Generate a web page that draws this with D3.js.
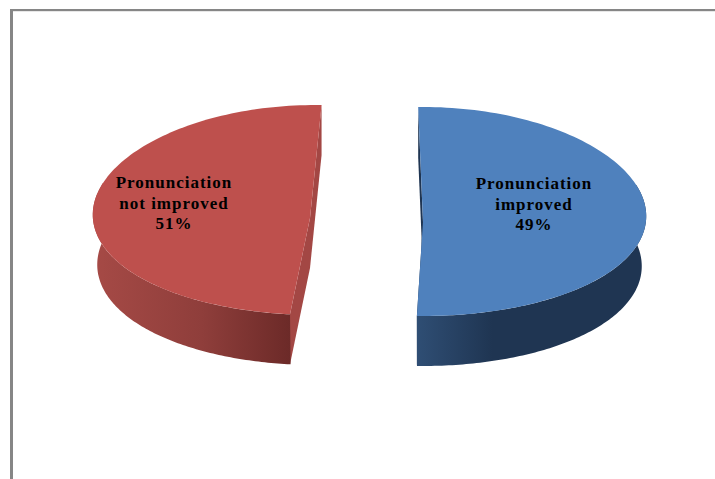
<!DOCTYPE html>
<html>
<head>
<meta charset="utf-8">
<script src="https://cdn.jsdelivr.net/npm/d3@7"></script>
<style>
  html, body { margin: 0; padding: 0; background: #fff; overflow: hidden; }
  svg { display: block; }
</style>
</head>
<body>
<script>
// Survey outcome, in percent
const categories = ["Pronunciation improved", "Pronunciation not improved"];
const labelLines = [["Pronunciation", "improved"], ["Pronunciation", "not improved"]];
const values = [49, 51];

const W = 715, H = 479;
const deg = Math.PI / 180;
const depth = 50;        // thickness of the extruded disc
const persp = 0.045;     // far side of the disc narrows slightly
const taper = 0.02;      // lower rim of the disc is a little narrower than the top

// Placement of each exploded slice and how its sweep sits on the tilted disc
const sliceViews = [
  { cx: 423, cy: 211.5, rx: 223, ry: 104.5, apex: [423, 222], from: -1.3, to: 181.5,
    top: "#4f81bd", cut: "#1f3552", wallStops: [[0, "#2f4e74"], [0.33, "#1f3552"], [1, "#1f3552"]],
    label: [534, 183] },
  { cx: 316, cy: 210, rx: 223, ry: 105, apex: [310, 218], from: 186.4, to: 361.5,
    top: "#be504d", cut: "#a34744", wallStops: [[0, "#a64a46"], [0.55, "#8f3e3b"], [1, "#6c2a28"]],
    label: [174, 182] }
];

const svg = d3.select("body").append("svg").attr("width", W).attr("height", H);
const defs = svg.append("defs");

svg.append("rect").attr("width", W).attr("height", H).attr("fill", "#fff");

// Chart frame: only its top and left edges fall inside the page
svg.append("rect").attr("x", 10).attr("y", 9).attr("width", W - 10).attr("height", 2.2).attr("fill", "#868686");
svg.append("rect").attr("x", 10).attr("y", 9).attr("width", 3).attr("height", H - 9).attr("fill", "#868686");

const pie = d3.pie().sort(null).startAngle(0).endAngle(2 * Math.PI);
const slices = pie(values);
const line = d3.line();

slices.forEach((d, i) => {
  const v = sliceViews[i];
  const view = d3.scaleLinear().domain([d.startAngle, d.endAngle]).range([v.from, v.to]);
  const rim = (a, dy = 0) => {
    const s = Math.sin(a * deg), c = Math.cos(a * deg);
    const narrow = 1 - taper * dy / depth;
    return [v.cx + v.rx * narrow * s * (1 - persp * c), v.cy - v.ry * c + dy];
  };
  const rimSpan = (a0, a1, dy) => d3.range(0, 121).map(k => rim(a0 + (a1 - a0) * k / 120, dy));

  const start = view(d.startAngle), end = view(d.endAngle);
  const g = svg.append("g").attr("class", "slice");

  // Cut faces running in to the apex
  const p0 = rim(start), p1 = rim(end);
  const face = (p) => [p, v.apex, [v.apex[0], v.apex[1] + depth], [p[0], p[1] + depth]];
  g.append("path").attr("d", line(face(p0)) + "Z").attr("fill", v.cut);
  g.append("path").attr("d", line(face(p1)) + "Z").attr("fill", v.cut);

  // Front wall: the part of the rim facing the viewer
  const w0 = Math.max(start, 75), w1 = Math.min(end, 285);
  const wallPts = rimSpan(w0, w1, 0).concat(rimSpan(w1, w0, depth));
  const xs = d3.extent(wallPts, p => p[0]);
  const gradId = "wall" + i;
  const grad = defs.append("linearGradient").attr("id", gradId)
    .attr("gradientUnits", "userSpaceOnUse")
    .attr("x1", xs[0]).attr("x2", xs[1]).attr("y1", 0).attr("y2", 0);
  v.wallStops.forEach(s => grad.append("stop").attr("offset", s[0]).attr("stop-color", s[1]));
  g.append("path").attr("d", line(wallPts) + "Z").attr("fill", `url(#${gradId})`);

  // Top surface
  const topPts = rimSpan(start, end, 0).concat([v.apex]);
  g.append("path").attr("d", line(topPts) + "Z").attr("fill", v.top);

  // Data label
  const text = g.append("text")
    .attr("x", v.label[0]).attr("y", v.label[1])
    .attr("text-anchor", "middle")
    .attr("font-family", "'Liberation Serif', serif")
    .attr("font-weight", "bold").attr("font-size", 17)
    .attr("letter-spacing", 1).attr("fill", "#000");
  const rows = labelLines[i].concat([d.data + "%"]);
  rows.forEach((t, k) => {
    text.append("tspan")
      .attr("x", v.label[0]).attr("y", v.label[1] + 6 + k * 20.5).text(t);
  });
});
</script>
</body>
</html>
